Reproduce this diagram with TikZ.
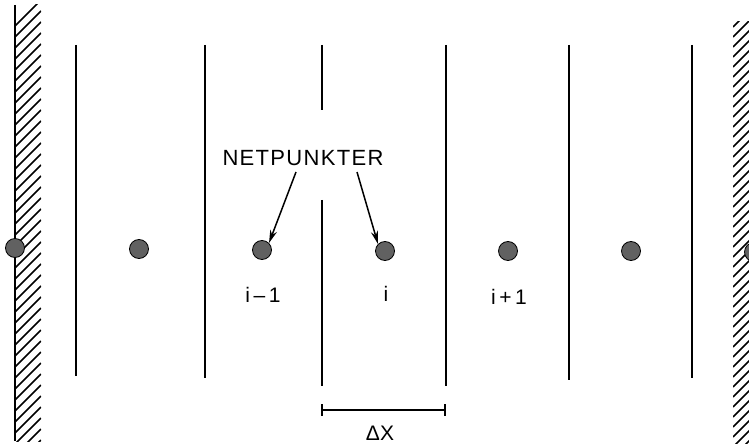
\documentclass[tikz,border=0pt]{standalone}
\usepackage{fontspec}
\setmainfont{Liberation Sans}
\newfontfamily\spacedfont[LetterSpace=6]{Liberation Sans}
\usetikzlibrary{arrows.meta,calc}
\tikzset{
  gridline/.style={line width=1.2pt, black},
  wallline/.style={line width=2.2pt, black},
  hatchline/.style={line width=1.6pt, black},
  netdot/.style={circle, draw=black, line width=0.8pt, fill=black!62, minimum size=19pt, inner sep=0pt},
  lbl/.style={font=\fontsize{21}{21}\selectfont, inner sep=0pt},
  ptr/.style={line width=1.5pt, -{Stealth[length=13pt, width=7pt]}},
  bar/.style={line width=1.3pt}
}
\begin{document}
\begin{tikzpicture}[x=1pt, y=-1pt]
\useasboundingbox (0,0) rectangle (749,446);
\clip (0,0) rectangle (749,446);
% left wall
\begin{scope}
  \clip (15,5) rectangle (41,441);
  \foreach \y in {0,11,...,460} {
    \draw[hatchline] (15,\y+26) -- (41,\y);
  }
\end{scope}
\coordinate (lwt) at (15,5);
\coordinate (lwb) at (15,441);
\draw[wallline] (lwt) -- (lwb);
% right wall hatching
\begin{scope}
  \clip (733,22) rectangle (760,443);
  \foreach \y in {0,10,...,470} {
    \draw[hatchline] (733,\y+27) -- (760,\y);
  }
\end{scope}
% grid lines
\foreach \n/\x/\t/\b in {a/76/45/376, b/205/45/378, d/446/45/386, e/569/45/380, f/692/45/378} {
  \coordinate (\n t) at (\x,\t);
  \coordinate (\n b) at (\x,\b);
  \draw[gridline] (\n t) -- (\n b);
}
\coordinate (c1t) at (322,45);
\coordinate (c1b) at (322,110);
\coordinate (c2t) at (322,200);
\coordinate (c2b) at (322,386);
\draw[gridline] (c1t) -- (c1b);
\draw[gridline] (c2t) -- (c2b);
% dots
\node[netdot] (p0) at (15,248) {};
\node[netdot] (p1) at (139,249) {};
\node[netdot] (p2) at (262,250) {};
\node[netdot] (p3) at (385,251) {};
\node[netdot] (p4) at (508,251) {};
\node[netdot] (p5) at (631,251) {};
\node[netdot] (p6) at (754,252) {};
% labels
\node[lbl] (l2) at (263,295) {i\,–\,1};
\node[lbl] (l3) at (386,294) {i};
\node[lbl] (l4) at (509,297) {i\,+\,1};
% NETPUNKTER
\node[lbl, font=\spacedfont\fontsize{22}{22}\selectfont] (np) at (303,158) {NETPUNKTER};
\coordinate (a1) at (296,172);
\coordinate (a2) at (357,172);
\draw[ptr] (a1) -- (p2.north east);
\draw[ptr] (a2) -- (p3.north west);
% delta x
\coordinate (dl) at (322,410);
\coordinate (dr) at (445,410);
\draw[bar] (dl) -- (dr);
\draw[bar] ($(dl)+(0,-6)$) -- ($(dl)+(0,6)$);
\draw[bar] ($(dr)+(0,-6)$) -- ($(dr)+(0,6)$);
\node[lbl] (dx) at (380,433) {ΔX};
\end{tikzpicture}
\end{document}
